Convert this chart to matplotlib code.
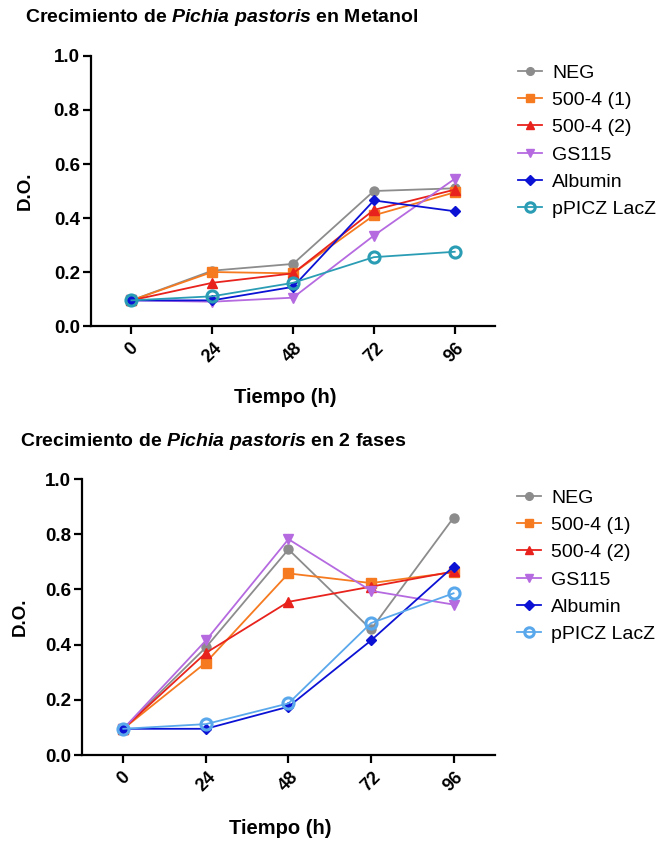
import numpy as np
import matplotlib.pyplot as plt

plt.rcParams['font.family'] = ['Liberation Sans', 'DejaVu Sans']
plt.rcParams['mathtext.fontset'] = 'custom'
plt.rcParams['mathtext.it'] = 'Liberation Sans:italic:bold'
plt.rcParams['mathtext.rm'] = 'Liberation Sans:bold'

horas = [0, 24, 48, 72, 96]
cepas = ["NEG", "500-4 (1)", "500-4 (2)", "GS115", "Albumin", "pPICZ LacZ"]

# Metanol
neg_met = [0.095, 0.205, 0.23, 0.50, 0.51]
c1_met = [0.095, 0.20, 0.195, 0.41, 0.495]
c2_met = [0.095, 0.16, 0.195, 0.43, 0.505]
gs_met = [0.095, 0.09, 0.105, 0.335, 0.545]
alb_met = [0.095, 0.095, 0.145, 0.465, 0.425]
lacz_met = [0.095, 0.11, 0.16, 0.255, 0.275]

# 2 fases
neg_2f = [0.095, 0.39, 0.745, 0.455, 0.86]
c1_2f = [0.095, 0.335, 0.658, 0.623, 0.662]
c2_2f = [0.095, 0.37, 0.555, 0.61, 0.665]
gs_2f = [0.095, 0.415, 0.782, 0.595, 0.545]
alb_2f = [0.095, 0.095, 0.175, 0.415, 0.683]
lacz_2f = [0.095, 0.112, 0.187, 0.478, 0.586]

colores = ['#8c8c8c', '#f57a20', '#e8221c', '#b56ae0', '#0c12d4', '#2a9db5']
colores2 = ['#8c8c8c', '#f57a20', '#e8221c', '#b56ae0', '#0c12d4', '#5aa8ec']
marcadores = ['o', 's', '^', 'v', 'D', 'o']
tam = [6.5, 6.5, 6.5, 7, 5.5, 8]


def panel(ax, series, cols, ylab_x, xlab_x, leg_pos):
    for i, y in enumerate(series):
        if i == 5:
            ax.plot(horas, y, color=cols[i], marker='o', ms=tam[i], mfc='none',
                    mew=2.2, lw=1.3, label=cepas[i])
        else:
            ax.plot(horas, y, color=cols[i], marker=marcadores[i], ms=tam[i],
                    lw=1.3, label=cepas[i])
    ax.set_xlim(-12, 108)
    ax.set_ylim(0, 1.0)
    ax.set_xticks(horas)
    ax.set_xticklabels([str(h) for h in horas], rotation=45, fontweight='bold', fontsize=13)
    ax.set_yticks(np.arange(0, 1.01, 0.2))
    ax.set_yticklabels(["%.1f" % v for v in np.arange(0, 1.01, 0.2)], fontweight='bold', fontsize=13.5)
    for s in ['top', 'right']:
        ax.spines[s].set_visible(False)
    for s in ['left', 'bottom']:
        ax.spines[s].set_linewidth(1.6)
    ax.tick_params(width=1.6, length=6, pad=2)
    ax.tick_params(axis='x', pad=4)
    ax.set_ylabel("D.O.", fontweight='bold', fontsize=13.5)
    ax.set_xlabel("Tiempo (h)", fontweight='bold', fontsize=14.5)
    ax.yaxis.set_label_coords(ylab_x, 0.5)
    ax.xaxis.set_label_coords(xlab_x, -0.23)
    ax.legend(loc='upper left', bbox_to_anchor=leg_pos, bbox_transform=fig.transFigure,
              frameon=False, fontsize=14, handlelength=1.25, labelspacing=0.5,
              handletextpad=0.5, borderpad=0, borderaxespad=0, markerscale=0.85)
    return ax


fig = plt.figure(figsize=(6.68, 8.42), dpi=100)
ax1 = fig.add_axes([0.1362, 0.6128, 0.605, 0.3207])
panel(ax1, [neg_met, c1_met, c2_met, gs_met, alb_met, lacz_met], colores,
      -0.141, 0.48, (518 / 668, 1 - 64 / 842))
ax2 = fig.add_axes([0.1228, 0.1033, 0.618, 0.3278])
panel(ax2, [neg_2f, c1_2f, c2_2f, gs_2f, alb_2f, lacz_2f], colores2,
      -0.13, 0.479, (517 / 668, 1 - 489 / 842))

fig.text(25 / 668, 1 - 18 / 842, r"Crecimiento de $\mathit{Pichia\ pastoris}$ en Metanol",
         fontsize=14, fontweight='bold', va='center', ha='left')
fig.text(20 / 668, 1 - 441 / 842, r"Crecimiento de $\mathit{Pichia\ pastoris}$ en 2 fases",
         fontsize=14, fontweight='bold', va='center', ha='left')

fig.savefig("out.png", dpi=100)
